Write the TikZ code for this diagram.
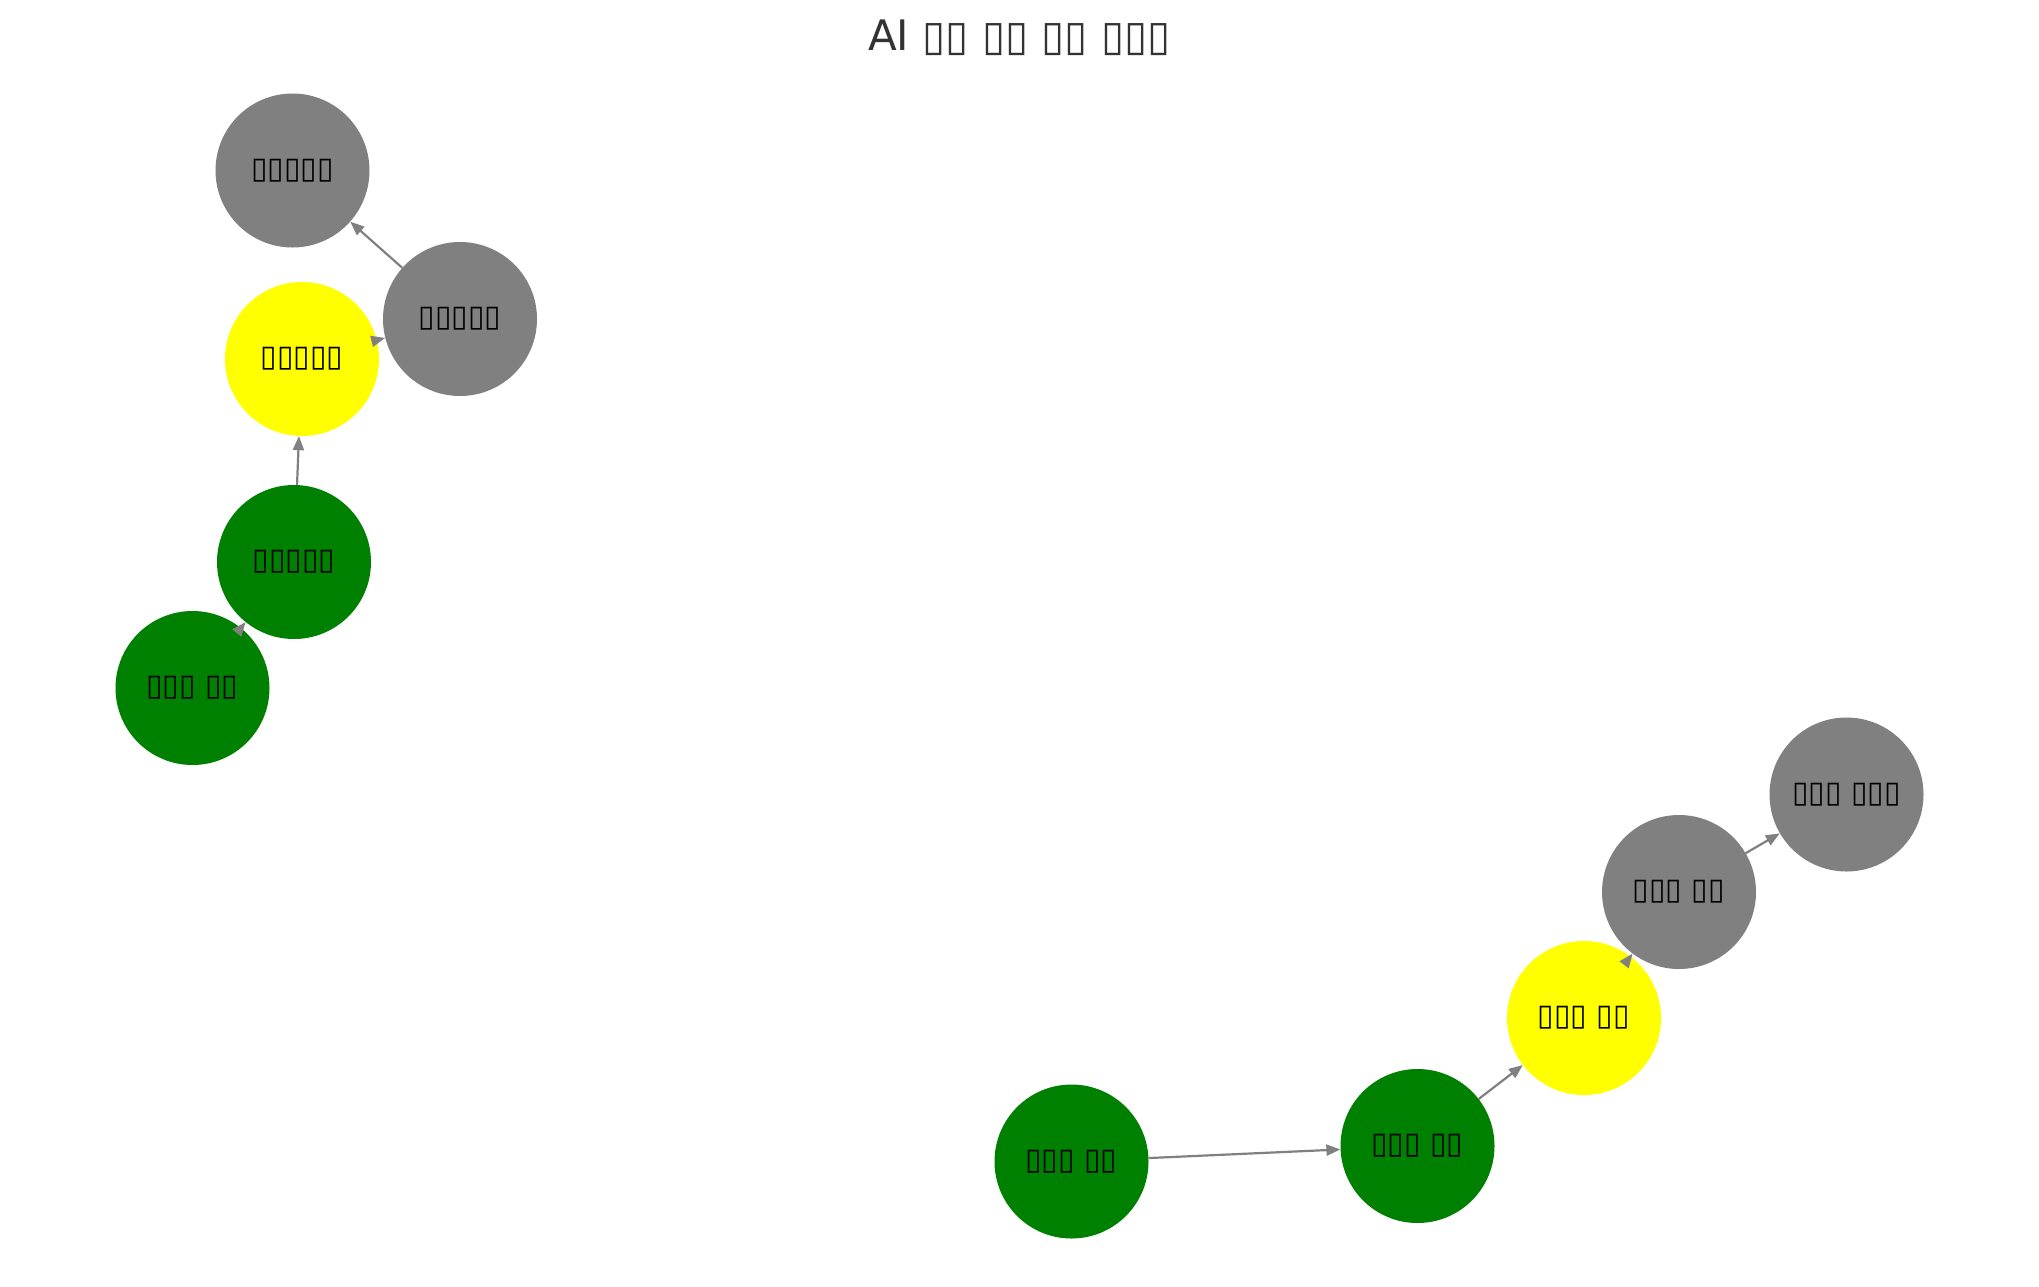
\documentclass[tikz,border=0pt]{standalone}
\usepackage{fontspec}
\setmainfont{DejaVu Sans}
\usetikzlibrary{arrows.meta}
\definecolor{stagegreen}{RGB}{0,128,0}
\definecolor{stageyellow}{RGB}{255,255,0}
\definecolor{stagegray}{RGB}{128,128,128}

\begin{document}
\begin{tikzpicture}[x=1pt, y=-1pt, >={Triangle[length=14pt, width=11pt]},
    stage/.style={circle, minimum size=154pt, inner sep=0pt,
                  font=\fontsize{30}{30}\selectfont},
    done/.style={stage, fill=stagegreen},
    busy/.style={stage, fill=stageyellow},
    todo/.style={stage, fill=stagegray},
    flow/.style={->, line width=2.2pt, draw=stagegray, fill=stagegray}]
  \useasboundingbox (0,0) rectangle (2039,1286);
  \node[font=\fontsize{42}{42}\selectfont, text=black!80] (title) at (1019.5,38) {AI ▯▯ ▯▯ ▯▯ ▯▯▯};

  % left chain
  \node[done] (l1) at (192.5,688) {▯▯▯ ▯▯};
  \node[done] (l2) at (294,562) {▯▯▯▯▯};
  \node[busy] (l3) at (302,359) {▯▯▯▯▯};
  \node[todo] (l4) at (460,319) {▯▯▯▯▯};
  \node[todo] (l5) at (292.5,170.5) {▯▯▯▯▯};

  % right chain
  \node[done] (r1) at (1071.5,1161.5) {▯▯▯ ▯▯};
  \node[done] (r2) at (1417.5,1146) {▯▯▯ ▯▯};
  \node[busy] (r3) at (1584,1018) {▯▯▯ ▯▯};
  \node[todo] (r4) at (1679,892) {▯▯▯ ▯▯};
  \node[todo] (r5) at (1846.5,794.5) {▯▯▯ ▯▯▯};

  \foreach \a/\b in {l1/l2, l2/l3, l3/l4, l4/l5, r1/r2, r2/r3, r3/r4, r4/r5}
    \draw[flow] (\a) -- (\b);
\end{tikzpicture}
\end{document}
